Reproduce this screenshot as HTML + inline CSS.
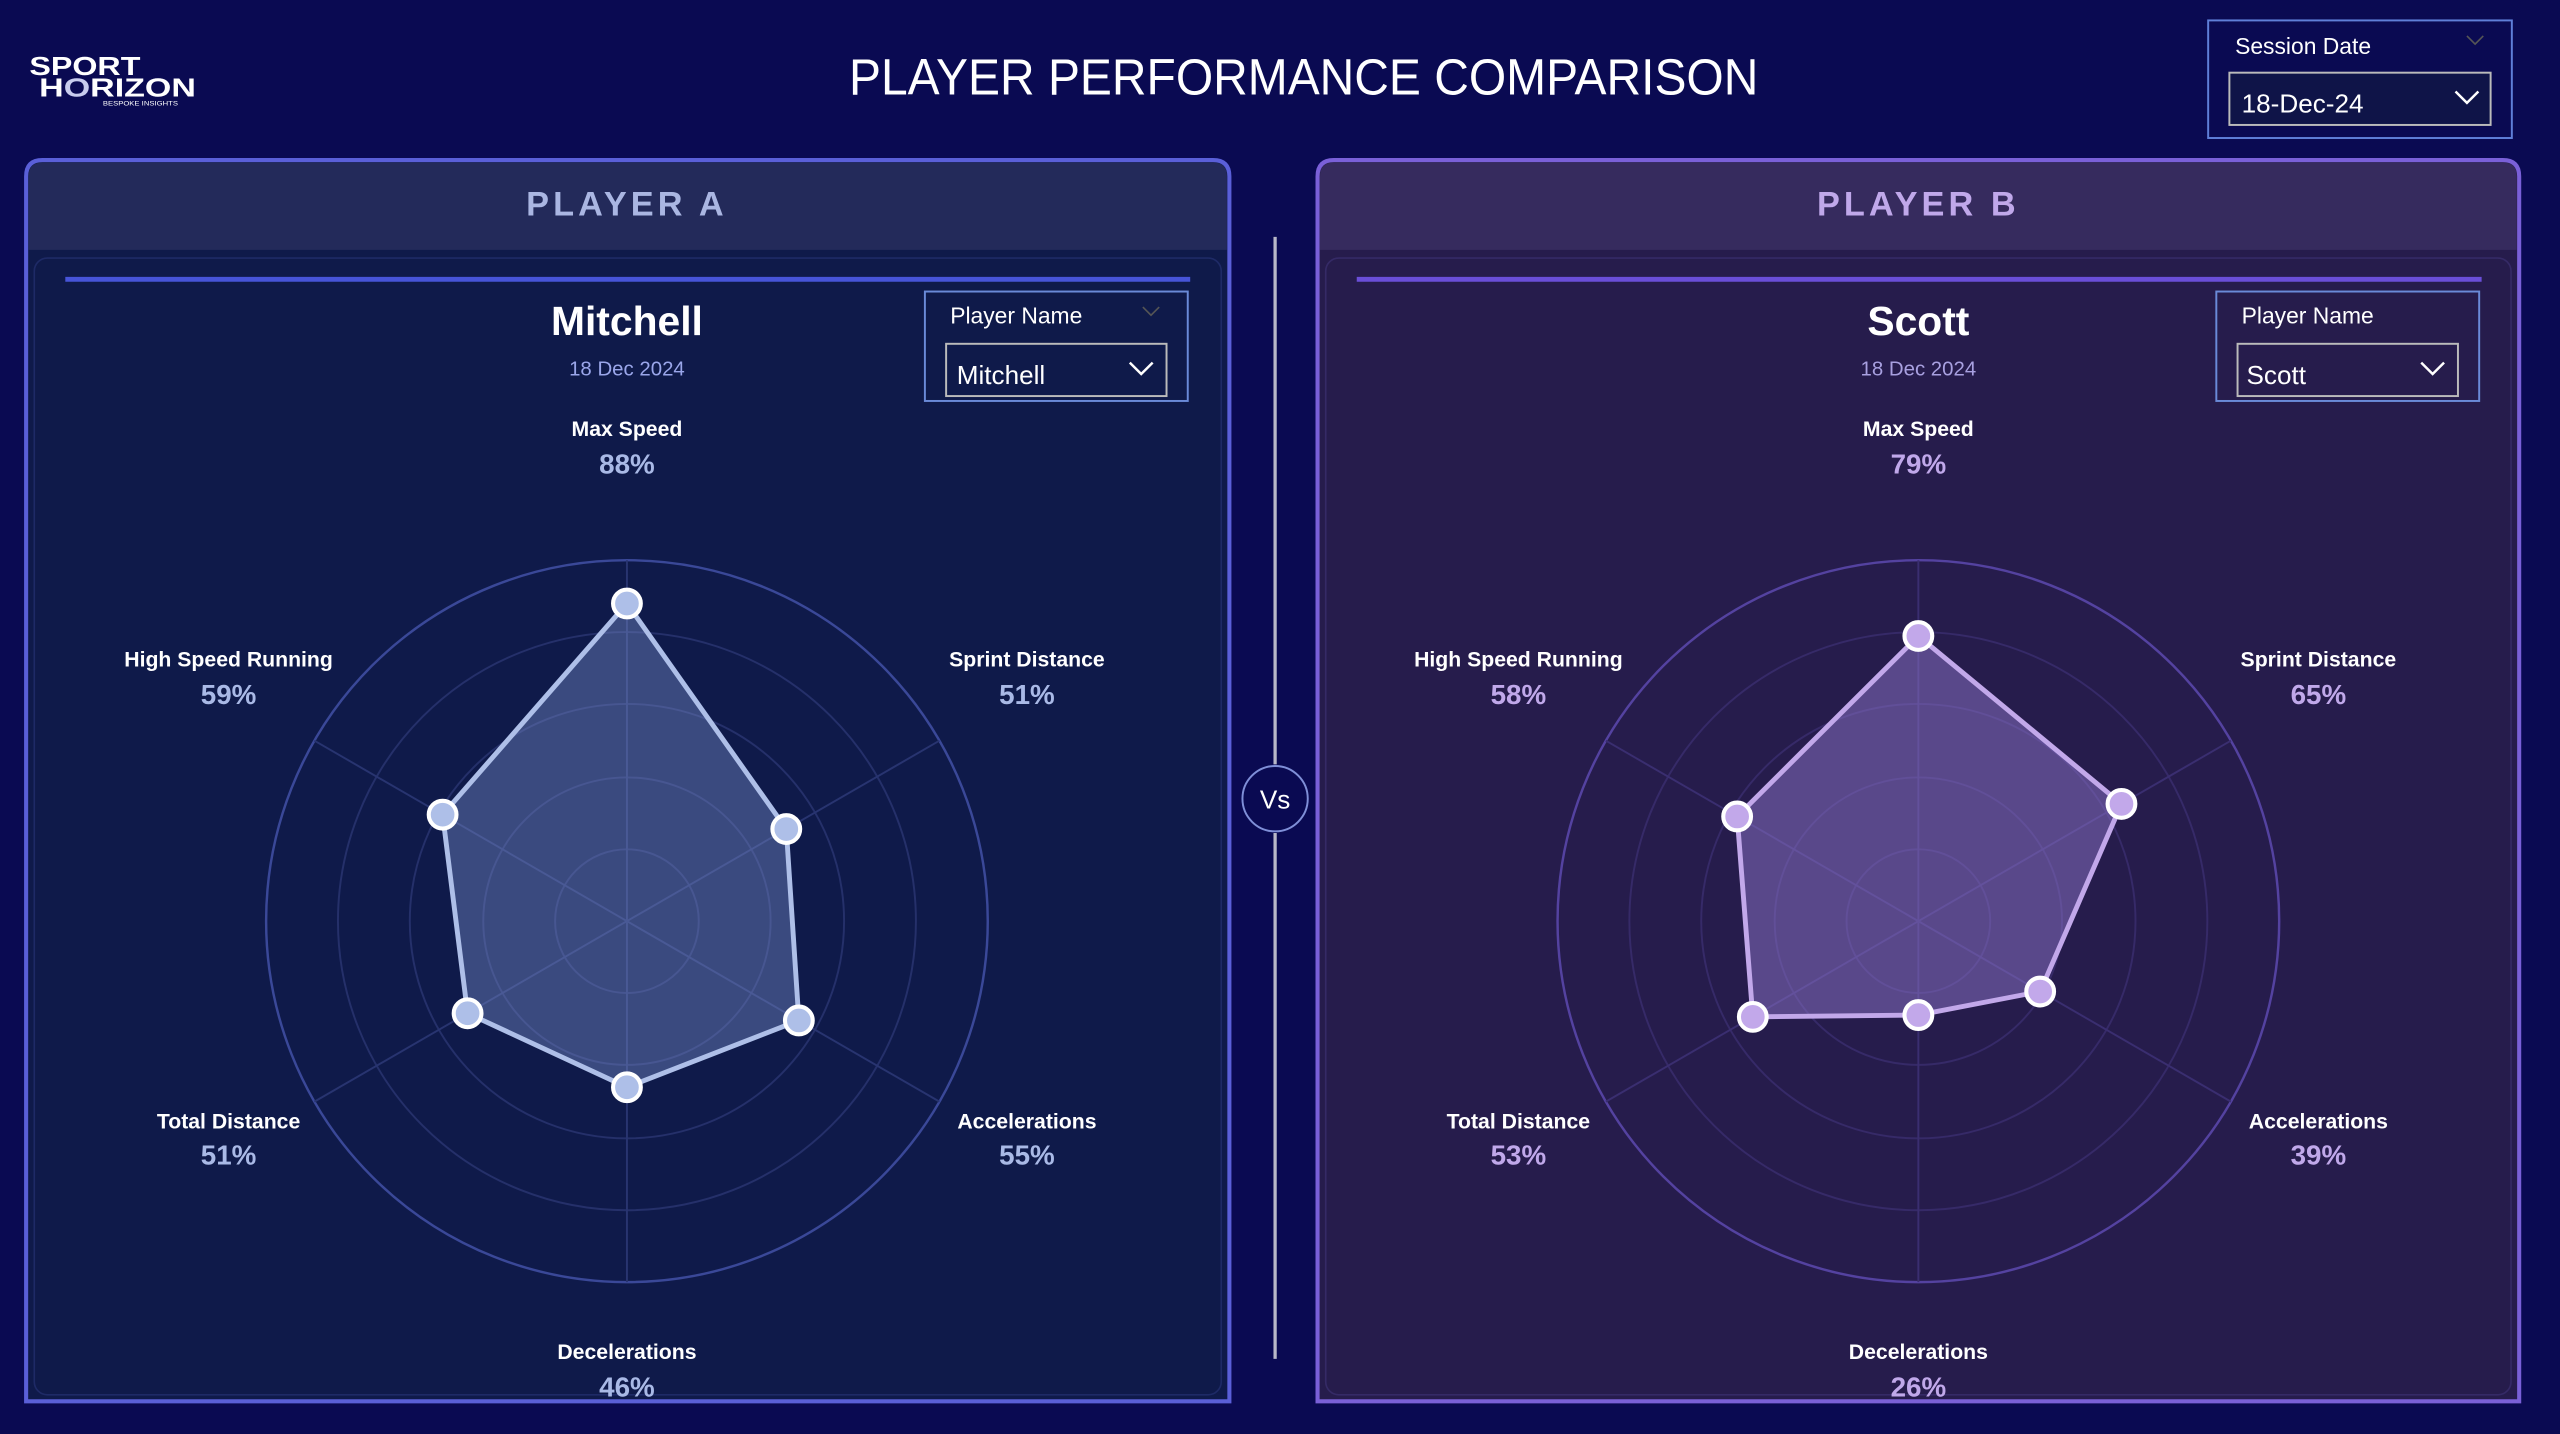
<!DOCTYPE html>
<html><head><meta charset="utf-8"><style>
html,body{margin:0;padding:0;background:#0a0a52;}
svg{display:block;}
text{font-family:"Liberation Sans",sans-serif;}
</style></head><body>
<svg width="2560" height="1434" viewBox="0 0 1568 878" preserveAspectRatio="none" xmlns="http://www.w3.org/2000/svg">
<rect width="1568" height="878" fill="#0a0a52"/>
<!-- logo -->
<text x="18" y="46" font-size="16" font-weight="bold" fill="#fff" textLength="68" lengthAdjust="spacingAndGlyphs">SPORT</text>
<text x="24" y="59" font-size="16" font-weight="bold" fill="#fff" textLength="96" lengthAdjust="spacingAndGlyphs">H<tspan fill="#c8ccee">O</tspan>RIZON</text>
<text x="63" y="64.5" font-size="4" fill="#fff" textLength="46" lengthAdjust="spacingAndGlyphs">BESPOKE INSIGHTS</text>
<!-- title -->
<text x="520" y="58" font-size="31" fill="#fff" textLength="557" lengthAdjust="spacingAndGlyphs">PLAYER PERFORMANCE COMPARISON</text>
<!-- session date -->
<rect x="1352.5" y="12.5" width="186" height="72" fill="none" stroke="#5f7fd8" stroke-width="1.2"/>
<text x="1369" y="33" font-size="14" fill="#fff">Session Date</text>
<polyline points="1511,22 1516,27 1521,22" fill="none" stroke="#555" stroke-width="1"/>
<rect x="1365.5" y="44.5" width="160" height="32" fill="#0f1448" stroke="#bbb" stroke-width="1.2"/>
<text x="1373" y="69" font-size="16" fill="#fff">18-Dec-24</text>
<polyline points="1504,56 1511,63 1518,56" fill="none" stroke="#fff" stroke-width="1.5"/>
<!-- Vs -->
<line x1="781" y1="145" x2="781" y2="468" stroke="#b8b8c8" stroke-width="2"/>
<line x1="781" y1="510" x2="781" y2="832" stroke="#b8b8c8" stroke-width="2"/>
<circle cx="781" cy="489" r="20" fill="#0a0a52" stroke="#7f8fd8" stroke-width="1.2"/>
<text x="781" y="495" font-size="16" fill="#fff" text-anchor="middle">Vs</text>

<!-- PANEL A -->
<g>
<path d="M16,858 V108 Q16,98 26,98 H743 Q753,98 753,108 V858 Z" fill="#0f1a4a" stroke="#5a5fd8" stroke-width="2.5"/>
<path d="M17.5,153 V108 Q17.5,99.5 26,99.5 H743 Q751.5,99.5 751.5,108 V153 Z" fill="#232a5a"/>
<rect x="21" y="158" width="727" height="696" rx="8" fill="none" stroke="#1e2a66" stroke-width="1"/>
<text x="384" y="132" font-size="21" font-weight="bold" fill="#aab6e2" text-anchor="middle" letter-spacing="2.5">PLAYER A</text>
<line x1="40" y1="171" x2="729" y2="171" stroke="#4754d8" stroke-width="3"/>
<text x="384" y="205" font-size="25" font-weight="bold" fill="#fff" text-anchor="middle">Mitchell</text>
<text x="384" y="230" font-size="12.5" fill="#9aa6ea" text-anchor="middle">18 Dec 2024</text>
<rect x="566.5" y="178.5" width="161" height="67" fill="none" stroke="#6a8ad8" stroke-width="1.2"/>
<text x="582" y="198" font-size="14" fill="#fff">Player Name</text>
<polyline points="700,188 705,193 710,188" fill="none" stroke="#555" stroke-width="1"/>
<rect x="579.5" y="210.5" width="135" height="32" fill="#0f1a4a" stroke="#bbb" stroke-width="1.2"/>
<text x="586" y="235" font-size="16" fill="#fff">Mitchell</text>
<polyline points="692,222 699,229 706,222" fill="none" stroke="#fff" stroke-width="1.5"/>
<g fill="none">
<circle cx="384" cy="564" r="177" stroke="#25306a" stroke-width="1.2"/>
<circle cx="384" cy="564" r="133" stroke="#25306a" stroke-width="1.2"/>
<circle cx="384" cy="564" r="88" stroke="#25306a" stroke-width="1.2"/>
<circle cx="384" cy="564" r="44" stroke="#25306a" stroke-width="1.2"/>
<circle cx="384" cy="564" r="221" stroke="#3a4898" stroke-width="1.5"/>
<line x1="384" y1="343" x2="384" y2="785" stroke="#283470" stroke-width="1.2"/>
<line x1="192.6" y1="453.5" x2="575.4" y2="674.5" stroke="#283470" stroke-width="1.2"/>
<line x1="192.6" y1="674.5" x2="575.4" y2="453.5" stroke="#283470" stroke-width="1.2"/>
</g>
<polygon points="384,369.5 481.6,507.6 489.3,624.8 384,665.7 286.4,620.4 271.1,498.8" fill="rgba(120,140,200,0.42)" stroke="#aebfe8" stroke-width="3" stroke-linejoin="round"/>
<g fill="#aebfe8" stroke="#fff" stroke-width="2.5">
<circle cx="384" cy="369.5" r="8.5"/><circle cx="481.6" cy="507.6" r="8.5"/><circle cx="489.3" cy="624.8" r="8.5"/>
<circle cx="384" cy="665.7" r="8.5"/><circle cx="286.4" cy="620.4" r="8.5"/><circle cx="271.1" cy="498.8" r="8.5"/>
</g>
<g font-size="13" font-weight="bold" fill="#fff" text-anchor="middle">
<text x="384" y="267">Max Speed</text><text x="140" y="408">High Speed Running</text><text x="629" y="408">Sprint Distance</text>
<text x="140" y="691">Total Distance</text><text x="629" y="691">Accelerations</text><text x="384" y="832">Decelerations</text>
</g>
<g font-size="17" font-weight="bold" fill="#a9b9e6" text-anchor="middle">
<text x="384" y="290">88%</text><text x="140" y="431">59%</text><text x="629" y="431">51%</text>
<text x="140" y="713">51%</text><text x="629" y="713">55%</text><text x="384" y="855">46%</text>
</g>
</g>

<!-- PANEL B -->
<g>
<path d="M807,858 V108 Q807,98 817,98 H1533 Q1543,98 1543,108 V858 Z" fill="#261c4c" stroke="#7a60d8" stroke-width="2.5"/>
<path d="M808.5,153 V108 Q808.5,99.5 817,99.5 H1533 Q1541.5,99.5 1541.5,108 V153 Z" fill="#362b5e"/>
<rect x="812" y="158" width="726" height="696" rx="8" fill="none" stroke="#352a66" stroke-width="1"/>
<text x="1175" y="132" font-size="21" font-weight="bold" fill="#c0a8ea" text-anchor="middle" letter-spacing="2.5">PLAYER B</text>
<line x1="831" y1="171" x2="1520" y2="171" stroke="#6a4ed8" stroke-width="3"/>
<text x="1175" y="205" font-size="25" font-weight="bold" fill="#fff" text-anchor="middle">Scott</text>
<text x="1175" y="230" font-size="12.5" fill="#a8a0e0" text-anchor="middle">18 Dec 2024</text>
<rect x="1357.5" y="178.5" width="161" height="67" fill="none" stroke="#6a8ad8" stroke-width="1.2"/>
<text x="1373" y="198" font-size="14" fill="#fff">Player Name</text>
<rect x="1370.5" y="210.5" width="135" height="32" fill="#261c4c" stroke="#bbb" stroke-width="1.2"/>
<text x="1376" y="235" font-size="16" fill="#fff">Scott</text>
<polyline points="1483,222 1490,229 1497,222" fill="none" stroke="#fff" stroke-width="1.5"/>
<g fill="none">
<circle cx="1175" cy="564" r="177" stroke="#362a68" stroke-width="1.2"/>
<circle cx="1175" cy="564" r="133" stroke="#362a68" stroke-width="1.2"/>
<circle cx="1175" cy="564" r="88" stroke="#362a68" stroke-width="1.2"/>
<circle cx="1175" cy="564" r="44" stroke="#362a68" stroke-width="1.2"/>
<circle cx="1175" cy="564" r="221" stroke="#5442a0" stroke-width="1.5"/>
<line x1="1175" y1="343" x2="1175" y2="785" stroke="#3a2e70" stroke-width="1.2"/>
<line x1="983.6" y1="453.5" x2="1366.4" y2="674.5" stroke="#3a2e70" stroke-width="1.2"/>
<line x1="983.6" y1="674.5" x2="1366.4" y2="453.5" stroke="#3a2e70" stroke-width="1.2"/>
</g>
<polygon points="1175,389.4 1299.4,492.2 1249.6,607.1 1175,621.5 1073.6,622.6 1064,499.9" fill="rgba(140,115,200,0.5)" stroke="#c2a8ea" stroke-width="3" stroke-linejoin="round"/>
<g fill="#c2a8ea" stroke="#fff" stroke-width="2.5">
<circle cx="1175" cy="389.4" r="8.5"/><circle cx="1299.4" cy="492.2" r="8.5"/><circle cx="1249.6" cy="607.1" r="8.5"/>
<circle cx="1175" cy="621.5" r="8.5"/><circle cx="1073.6" cy="622.6" r="8.5"/><circle cx="1064" cy="499.9" r="8.5"/>
</g>
<g font-size="13" font-weight="bold" fill="#fff" text-anchor="middle">
<text x="1175" y="267">Max Speed</text><text x="930" y="408">High Speed Running</text><text x="1420" y="408">Sprint Distance</text>
<text x="930" y="691">Total Distance</text><text x="1420" y="691">Accelerations</text><text x="1175" y="832">Decelerations</text>
</g>
<g font-size="17" font-weight="bold" fill="#c0a8ea" text-anchor="middle">
<text x="1175" y="290">79%</text><text x="930" y="431">58%</text><text x="1420" y="431">65%</text>
<text x="930" y="713">53%</text><text x="1420" y="713">39%</text><text x="1175" y="855">26%</text>
</g>
</g>
</svg>
</body></html>
